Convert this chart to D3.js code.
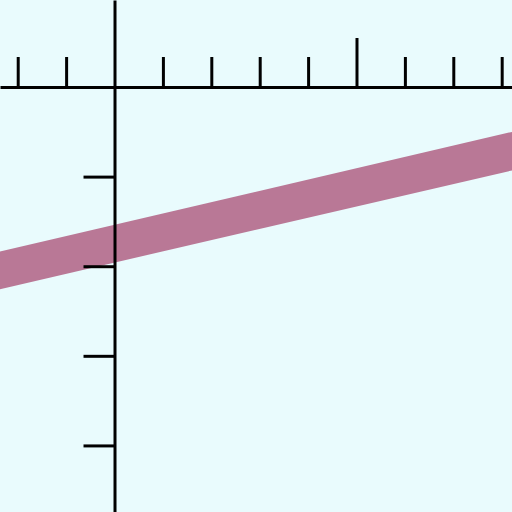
<!DOCTYPE html>
<html>
<head>
<meta charset="utf-8">
<script src="https://cdn.jsdelivr.net/npm/d3@7/dist/d3.min.js"></script>
<style>
html,body{margin:0;padding:0;background:#e9fbfd;}
svg{display:block;}
</style>
</head>
<body>
<svg id="chart" width="512" height="512"></svg>
<script>
// Data
const xTicks = [-2, -1, 1, 2, 3, 4, 5, 6, 7, 8];
const yTicks = [-1, -2, -3, -4];
const majorXTick = 5;
const bandX = [-2.4, 8.3];
const bandUpper = [-1.84, -0.49];
const bandLower = [-2.26, -0.92];

const W = 512, H = 512;
const svg = d3.select("#chart");
svg.append("rect").attr("width", W).attr("height", H).attr("fill", "#e9fbfd");

const x = d3.scaleLinear().domain([-2.366, 8.213]).range([0, W]);
const y = d3.scaleLinear().domain([0.971, -4.743]).range([0, H]);

const bandData = bandX.map((d, i) => ({x: d, hi: bandUpper[i], lo: bandLower[i]}));
const area = d3.area().x(d => x(d.x)).y0(d => y(d.lo)).y1(d => y(d.hi));
svg.append("path").datum(bandData).attr("d", area).attr("fill", "#b97896");

// X axis (ticks pointing up)
const gx = svg.append("g").attr("transform", `translate(0,${y(0)})`)
  .call(d3.axisTop(x).tickValues(xTicks).tickSize(30).tickSizeOuter(0).tickFormat(""));
gx.select(".domain").attr("stroke", "#000").attr("stroke-width", 3);
gx.selectAll(".tick line").attr("stroke", "#000").attr("stroke-width", 3)
  .filter(d => d === majorXTick).attr("y2", -49);

// Y axis (ticks pointing left)
const gy = svg.append("g").attr("transform", `translate(${x(0)},0)`)
  .call(d3.axisLeft(y).tickValues(yTicks).tickSize(31).tickSizeOuter(0).tickFormat(""));
gy.select(".domain").attr("stroke", "#000").attr("stroke-width", 3);
gy.selectAll(".tick line").attr("stroke", "#000").attr("stroke-width", 3);
</script>
</body>
</html>
